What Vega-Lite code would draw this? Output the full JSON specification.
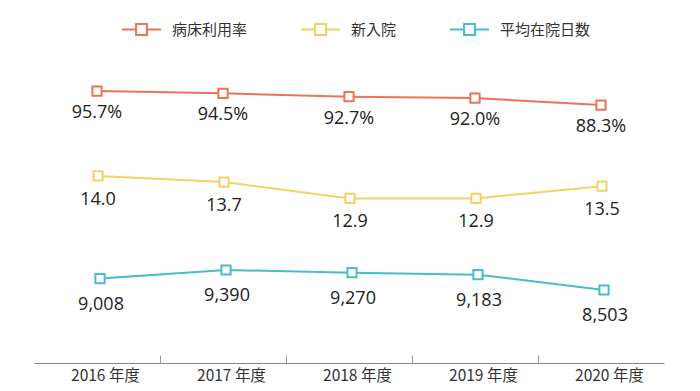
{
  "$schema": "https://vega.github.io/schema/vega-lite/v6.json",
  "width": 630,
  "height": 313,
  "autosize": "none",
  "padding": {"left": 34, "top": 50, "right": 36, "bottom": 28},
  "config": {"view": {"stroke": null}, "font": "Noto Sans CJK JP"},
  "data": {
    "values": [
      {"year": "2016", "series": "病床利用率", "value": 95.7, "label": "95.7%"},
      {"year": "2017", "series": "病床利用率", "value": 94.5, "label": "94.5%"},
      {"year": "2018", "series": "病床利用率", "value": 92.7, "label": "92.7%"},
      {"year": "2019", "series": "病床利用率", "value": 92.0, "label": "92.0%"},
      {"year": "2020", "series": "病床利用率", "value": 88.3, "label": "88.3%"},
      {"year": "2016", "series": "新入院", "value": 14.0, "label": "14.0"},
      {"year": "2017", "series": "新入院", "value": 13.7, "label": "13.7"},
      {"year": "2018", "series": "新入院", "value": 12.9, "label": "12.9"},
      {"year": "2019", "series": "新入院", "value": 12.9, "label": "12.9"},
      {"year": "2020", "series": "新入院", "value": 13.5, "label": "13.5"},
      {"year": "2016", "series": "平均在院日数", "value": 9008, "label": "9,008"},
      {"year": "2017", "series": "平均在院日数", "value": 9390, "label": "9,390"},
      {"year": "2018", "series": "平均在院日数", "value": 9270, "label": "9,270"},
      {"year": "2019", "series": "平均在院日数", "value": 9183, "label": "9,183"},
      {"year": "2020", "series": "平均在院日数", "value": 8503, "label": "8,503"}
    ]
  },
  "layer": [
    {
      "transform": [{"filter": "datum.series === '病床利用率'"}],
      "mark": {"type": "line", "strokeWidth": 2, "point": {"shape": "square", "filled": false, "fill": "white", "size": 85, "strokeWidth": 2, "opacity": 1}},
      "encoding": {
        "x": {"field": "year", "type": "nominal", "scale": {"paddingInner": 0, "paddingOuter": 0},
          "axis": {"orient": "bottom", "values": ["2017", "2018", "2019", "2020"], "tickOffset": -63, "labels": false, "domain": false, "ticks": true, "tickSize": -8, "tickColor": "#999", "tickWidth": 1, "grid": false, "title": null}},
        "y": {"field": "value", "type": "quantitative", "scale": {"domain": [-47.5, 117.3], "zero": false, "nice": false}, "axis": null},
        "color": {"field": "series", "type": "nominal",
          "scale": {"domain": ["病床利用率", "新入院", "平均在院日数"], "range": ["#EA7459", "#F4D165", "#48BDC7"]},
          "legend": {"orient": "none", "legendX": 87, "legendY": -41, "direction": "horizontal", "title": null,
            "symbolType": "M-1,0H-0.28M0.28,0H1M-0.28,-0.28H0.28V0.28H-0.28Z", "symbolSize": 1521, "symbolStrokeWidth": 2, "symbolFillColor": "white",
            "labelFontSize": 15, "labelFont": "Noto Sans CJK JP", "labelColor": "#333", "labelOffset": 10, "columnPadding": 49, "padding": 0}}
      }
    },
    {
      "transform": [{"filter": "datum.series === '病床利用率'"}],
      "mark": {"type": "text", "dy": 22, "font": "Open Sans", "fontSize": 18, "color": "#222", "baseline": "middle"},
      "encoding": {
        "x": {"field": "year", "type": "nominal", "scale": {"paddingInner": 0, "paddingOuter": 0},
          "axis": {"orient": "bottom", "labelExpr": "datum.label + ' 年度'", "labelAngle": 0, "labelOffset": 8, "ticks": false, "domain": true, "domainColor": "#888", "domainWidth": 1, "labelFont": "Noto Sans CJK JP", "labelFontSize": 15.5, "labelFontWeight": "normal", "labelColor": "#333", "labelPadding": 5, "grid": false, "title": null}},
        "y": {"field": "value", "type": "quantitative", "scale": {"domain": [-47.5, 117.3], "zero": false, "nice": false}, "axis": null},
        "text": {"field": "label"}
      }
    },
    {
      "transform": [{"filter": "datum.series === '新入院'"}],
      "mark": {"type": "line", "strokeWidth": 2, "xOffset": 1, "point": {"shape": "square", "filled": false, "fill": "white", "size": 85, "strokeWidth": 2, "opacity": 1, "xOffset": 1}},
      "encoding": {
        "x": {"field": "year", "type": "nominal", "scale": {"paddingInner": 0, "paddingOuter": 0}, "axis": null},
        "y": {"field": "value", "type": "quantitative", "scale": {"domain": [4.85, 20.16], "zero": false, "nice": false}, "axis": null},
        "color": {"field": "series", "type": "nominal"}
      }
    },
    {
      "transform": [{"filter": "datum.series === '新入院'"}],
      "mark": {"type": "text", "dy": 24, "xOffset": 1, "font": "Open Sans", "fontSize": 18, "color": "#222", "baseline": "middle"},
      "encoding": {
        "x": {"field": "year", "type": "nominal", "scale": {"paddingInner": 0, "paddingOuter": 0}, "axis": null},
        "y": {"field": "value", "type": "quantitative", "scale": {"domain": [4.85, 20.16], "zero": false, "nice": false}, "axis": null},
        "text": {"field": "label"}
      }
    },
    {
      "transform": [{"filter": "datum.series === '平均在院日数'"}],
      "mark": {"type": "line", "strokeWidth": 2, "xOffset": 3, "point": {"shape": "square", "filled": false, "fill": "white", "size": 85, "strokeWidth": 2, "opacity": 1, "xOffset": 3}},
      "encoding": {
        "x": {"field": "year", "type": "nominal", "scale": {"paddingInner": 0, "paddingOuter": 0}, "axis": null},
        "y": {"field": "value", "type": "quantitative", "scale": {"domain": [5266, 19146], "zero": false, "nice": false}, "axis": null},
        "color": {"field": "series", "type": "nominal"}
      }
    },
    {
      "transform": [{"filter": "datum.series === '平均在院日数'"}],
      "mark": {"type": "text", "dy": 26, "xOffset": 4, "font": "Open Sans", "fontSize": 18, "color": "#222", "baseline": "middle"},
      "encoding": {
        "x": {"field": "year", "type": "nominal", "scale": {"paddingInner": 0, "paddingOuter": 0}, "axis": null},
        "y": {"field": "value", "type": "quantitative", "scale": {"domain": [5266, 19146], "zero": false, "nice": false}, "axis": null},
        "text": {"field": "label"}
      }
    }
  ],
  "resolve": {"scale": {"y": "independent"}, "axis": {"x": "independent"}}
}
